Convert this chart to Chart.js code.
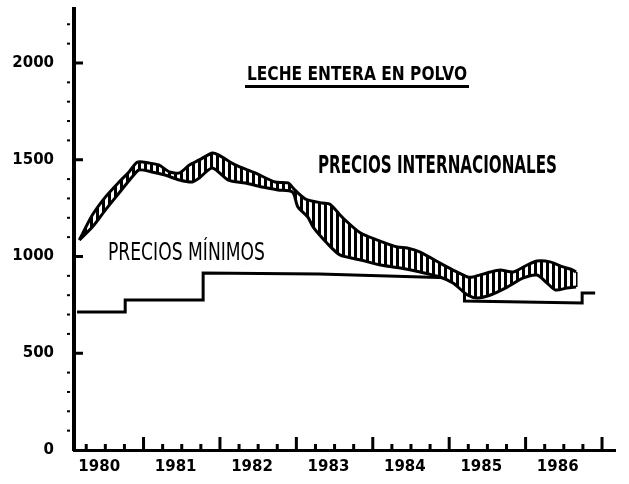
<!DOCTYPE html>
<html><head><meta charset="utf-8">
<script src="https://cdn.jsdelivr.net/npm/chart.js@4/dist/chart.umd.min.js"></script>
<style>html,body{margin:0;padding:0;background:#fff}canvas{display:block}</style>
</head><body>
<canvas id="c" width="629" height="484"></canvas>
<script>
// ---- data ----
const yearLabels = [1980, 1981, 1982, 1983, 1984, 1985, 1986];
const yTickValues = [0, 500, 1000, 1500, 2000];

// International prices band: upper edge
const upperT = [1980.16,1980.33,1980.50,1980.68,1980.81,1980.92,1981.07,1981.20,1981.34,1981.47,1981.60,1981.73,1981.90,1981.98,1982.20,1982.46,1982.72,1982.89,1982.98,1983.12,1983.34,1983.44,1983.61,1983.84,1984.06,1984.32,1984.45,1984.62,1984.88,1985.05,1985.24,1985.31,1985.54,1985.67,1985.84,1986.02,1986.15,1986.32,1986.49,1986.62,1986.66];
const upperV = [1085,1214,1307,1385,1437,1488,1483,1473,1437,1432,1473,1499,1535,1525,1473,1432,1385,1380,1344,1297,1276,1270,1199,1121,1085,1049,1044,1023,966,930,894,894,920,930,920,956,977,972,946,930,920];

// International prices band: lower edge
const lowerT = [1980.16,1980.33,1980.50,1980.68,1980.85,1980.94,1981.11,1981.28,1981.47,1981.64,1981.73,1981.90,1982.11,1982.33,1982.55,1982.76,1982.95,1983.02,1983.15,1983.22,1983.40,1983.57,1983.84,1984.10,1984.36,1984.62,1984.88,1985.05,1985.24,1985.37,1985.54,1985.76,1985.97,1986.15,1986.28,1986.39,1986.54,1986.66];
const lowerV = [1085,1152,1240,1328,1411,1447,1437,1421,1395,1385,1406,1457,1395,1380,1359,1344,1333,1256,1204,1152,1070,1008,982,956,941,920,894,863,801,786,801,842,889,904,863,827,837,842];

// Minimum prices (step line)
const minT = [1980.13,1980.76,1980.76,1981.78,1981.78,1983.30,1984.75,1985.20,1985.20,1986.74,1986.74,1986.91];
const minV = [713,713,775,775,915,910,893,888,770,760,811,811];

const titleText = 'LECHE ENTERA EN POLVO';
const intlLabel = 'PRECIOS INTERNACIONALES';
const minLabel = 'PRECIOS MÍNIMOS';

// ---- helpers ----
const pts = (ts, vs) => ts.map((t, i) => ({x: t, y: vs[i]}));

function stripePattern() {
  const c = document.createElement('canvas');
  c.width = 6; c.height = 6;
  const g = c.getContext('2d');
  g.fillStyle = '#fff'; g.fillRect(0, 0, 6, 6);
  g.fillStyle = '#000'; g.fillRect(0, 0, 3, 6);
  return document.getElementById('c').getContext('2d').createPattern(c, 'repeat');
}

function fitText(ctx, txt, x, baseline, w, px, weight) {
  ctx.save();
  ctx.font = weight + ' ' + px + 'px "DejaVu Sans"';
  const m = ctx.measureText(txt).width;
  ctx.translate(x, baseline);
  ctx.scale(w / m, 1);
  ctx.textAlign = 'left';
  ctx.textBaseline = 'alphabetic';
  ctx.fillStyle = '#000';
  ctx.fillText(txt, 0, 0);
  ctx.restore();
}

const decor = {
  id: 'decor',
  afterDraw(chart) {
    const ctx = chart.ctx, xs = chart.scales.x, ys = chart.scales.y;
    const ca = chart.chartArea;
    ctx.save();
    ctx.fillStyle = '#000';
    // x-axis tick marks (quarters, year boundaries larger), pointing up
    yearLabels.forEach(yr => {
      for (let q = 1; q <= 4; q++) {
        const px = xs.getPixelForValue(yr + q / 4);
        const big = q === 4;
        const h = big ? 13 : 6;
        ctx.fillRect(px - 1.5, ca.bottom - h, 3, h);
      }
    });
    // y-axis tick marks
    for (let v = 100; v <= 2200; v += 100) {
      const py = ys.getPixelForValue(v);
      if (v % 500 === 0) ctx.fillRect(ca.left, py - 1.5, 9, 3);
      else ctx.fillRect(ca.left - 7, py - 1, 3, 2);
    }
    // texts
    fitText(ctx, titleText, 247, 80, 220, 20, 'bold');
    ctx.fillRect(245, 85, 224, 3);
    fitText(ctx, intlLabel, 318, 173, 239, 24, 'bold');
    fitText(ctx, minLabel, 108, 260, 157, 24, 'normal');
    ctx.restore();
  }
};

new Chart(document.getElementById('c'), {
  type: 'line',
  data: {
    datasets: [
      { data: pts(upperT, upperV), borderColor: '#000', borderWidth: 3, pointRadius: 0, tension: 0.25, fill: false },
      { data: pts(lowerT, lowerV), borderColor: '#000', borderWidth: 3, pointRadius: 0, tension: 0.25,
        fill: 0, backgroundColor: stripePattern() },
      { data: [{x: upperT[upperT.length-1], y: upperV[upperV.length-1]}, {x: lowerT[lowerT.length-1], y: lowerV[lowerV.length-1]}],
        borderColor: '#000', borderWidth: 3, pointRadius: 0, fill: false },
      { data: pts(minT, minV), borderColor: '#000', borderWidth: 3, pointRadius: 0, tension: 0, fill: false }
    ]
  },
  options: {
    responsive: false,
    devicePixelRatio: 1,
    animation: false,
    events: [],
    layout: { padding: { top: 9, right: 14, left: 0, bottom: 0 } },
    plugins: { legend: { display: false }, tooltip: { enabled: false }, title: { display: false } },
    scales: {
      x: {
        type: 'linear', min: 1980.09, max: 1987.17,
        grid: { display: false, drawTicks: false },
        border: { display: true, color: '#000', width: 3 },
        afterFit: s => { s.height = 34; s.paddingLeft = 0; s.paddingRight = 0; },
        afterBuildTicks: s => { s.ticks = yearLabels.map(y => ({value: y + 0.42})); },
        ticks: {
          padding: 8, color: '#000', maxRotation: 0, autoSkip: false,
          font: { family: '"DejaVu Sans"', size: 15, weight: 'bold' },
          callback: v => String(Math.floor(v))
        }
      },
      y: {
        type: 'linear', min: 0, max: 2279,
        grid: { display: false, drawTicks: false },
        border: { display: true, color: '#000', width: 4 },
        afterFit: s => { s.width = 74; s.paddingTop = 0; s.paddingBottom = 0; },
        afterBuildTicks: s => { s.ticks = yTickValues.map(v => ({value: v})); },
        ticks: {
          padding: 20, color: '#000',
          font: { family: '"DejaVu Sans"', size: 15, weight: 'bold' },
          callback: v => String(v)
        }
      }
    }
  },
  plugins: [decor]
});
</script>
</body></html>
